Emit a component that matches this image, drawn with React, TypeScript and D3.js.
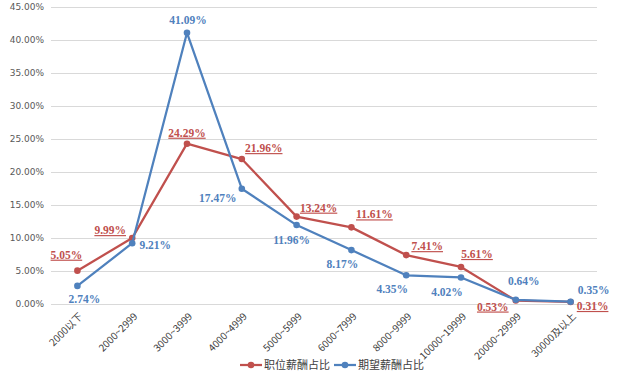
import React, { useEffect, useRef } from "react";
import * as d3 from "d3";

const width = 617;
const height = 375;
const margin = { top: 7, right: 19, bottom: 72, left: 50 };
const red = "#c0504d";
const blue = "#4f81bd";
const grid = "#d9d9d9";

const categories = [
  "2000以下",
  "2000~2999",
  "3000~3999",
  "4000~4999",
  "5000~5999",
  "6000~7999",
  "8000~9999",
  "10000~19999",
  "20000~29999",
  "30000及以上"
];
const jobShare = [5.05, 9.99, 24.29, 21.96, 13.24, 11.61, 7.41, 5.61, 0.53, 0.31];
const expectShare = [2.74, 9.21, 41.09, 17.47, 11.96, 8.17, 4.35, 4.02, 0.64, 0.35];
const yTicks = [0, 5, 10, 15, 20, 25, 30, 35, 40, 45];

// label offsets from each point (dx, dy of the text baseline centre)
const jobLabelPos = [
  [-11, -12], [-22, -4], [0, -7], [22, -7], [22, -5],
  [23, -9], [21, -5], [16, -9], [-23, 10], [22, 8]
];
const expectLabelPos = [
  [7, 17], [23, 6], [1, -9], [-24, 13], [-5, 19],
  [-9, 18], [-14, 18], [-14, 19], [8, -15], [23, -8]
];

const x = d3
  .scaleBand()
  .domain(categories)
  .range([margin.left, width - margin.right]);
const y = d3
  .scaleLinear()
  .domain([0, 45])
  .range([height - margin.bottom + 1, margin.top]);
const cx = (c: string) => (x(c) as number) + x.bandwidth() / 2;

const line = d3
  .line<number>()
  .x((d, i) => cx(categories[i]))
  .y(d => y(d));

const labelFont = "'Liberation Serif', 'DejaVu Serif', serif";
const cjkFont = "'Noto Sans CJK SC', 'DejaVu Sans', sans-serif";

function Series({ values, color, pos, underline }: any) {
  return (
    <g>
      <path d={line(values) as string} fill="none" stroke={color} strokeWidth={2.25} strokeLinejoin="round" />
      {values.map((v: number, i: number) => (
        <circle key={i} cx={cx(categories[i])} cy={y(v)} r={3.3} fill={color} />
      ))}
      {values.map((v: number, i: number) => (
        <text
          key={"t" + i}
          x={cx(categories[i]) + pos[i][0]}
          y={y(v) + pos[i][1]}
          textAnchor="middle"
          fill={color}
          fontFamily={labelFont}
          fontWeight="bold"
          fontSize={11.5}
          textDecoration={underline ? "underline" : undefined}
        >
          {v.toFixed(2) + "%"}
        </text>
      ))}
    </g>
  );
}

export default function App() {
  const yAxisRef = useRef<SVGGElement>(null);
  const xAxisRef = useRef<SVGGElement>(null);

  useEffect(() => {
    const yAxis = d3
      .axisLeft(y)
      .tickValues(yTicks)
      .tickSize(-(width - margin.left - margin.right - 2))
      .tickPadding(7)
      .tickFormat(d => (d as number).toFixed(2) + "%");
    const gy = d3.select(yAxisRef.current!).call(yAxis);
    gy.select(".domain").remove();
    gy.selectAll(".tick line").attr("stroke", grid).attr("stroke-width", 1);
    gy.selectAll(".tick text")
      .attr("fill", "#595959")
      .attr("font-size", 9)
      .attr("font-family", "'DejaVu Sans', sans-serif");

    const xAxis = d3.axisBottom(x).tickSize(0).tickPadding(0);
    const gx = d3.select(xAxisRef.current!).call(xAxis);
    gx.select(".domain").remove();
    gx.selectAll(".tick text")
      .attr("fill", "#404040")
      .attr("font-size", 10)
      .attr("font-family", cjkFont)
      .attr("text-anchor", "end")
      .attr("dy", 0)
      .attr("transform", "translate(6,13) rotate(-45)");
  }, []);

  const legendY = 365;
  return (
    <svg width={width} height={height} style={{ position: "absolute", left: 0, top: 0, background: "#fff" }}>
      <g ref={yAxisRef} transform={`translate(${margin.left + 1},0)`} />
      <g ref={xAxisRef} transform={`translate(0,${y(0)})`} />
      <Series values={jobShare} color={red} pos={jobLabelPos} underline />
      <Series values={expectShare} color={blue} pos={expectLabelPos} />
      <g fontFamily={cjkFont} fontSize={11} fill="#404040">
        <line x1={240} x2={262} y1={legendY} y2={legendY} stroke={red} strokeWidth={2.25} />
        <circle cx={251} cy={legendY} r={3.3} fill={red} />
        <text x={264} y={legendY + 4}>职位薪酬占比</text>
        <line x1={334} x2={356} y1={legendY} y2={legendY} stroke={blue} strokeWidth={2.25} />
        <circle cx={345} cy={legendY} r={3.3} fill={blue} />
        <text x={358} y={legendY + 4}>期望薪酬占比</text>
      </g>
    </svg>
  );
}
